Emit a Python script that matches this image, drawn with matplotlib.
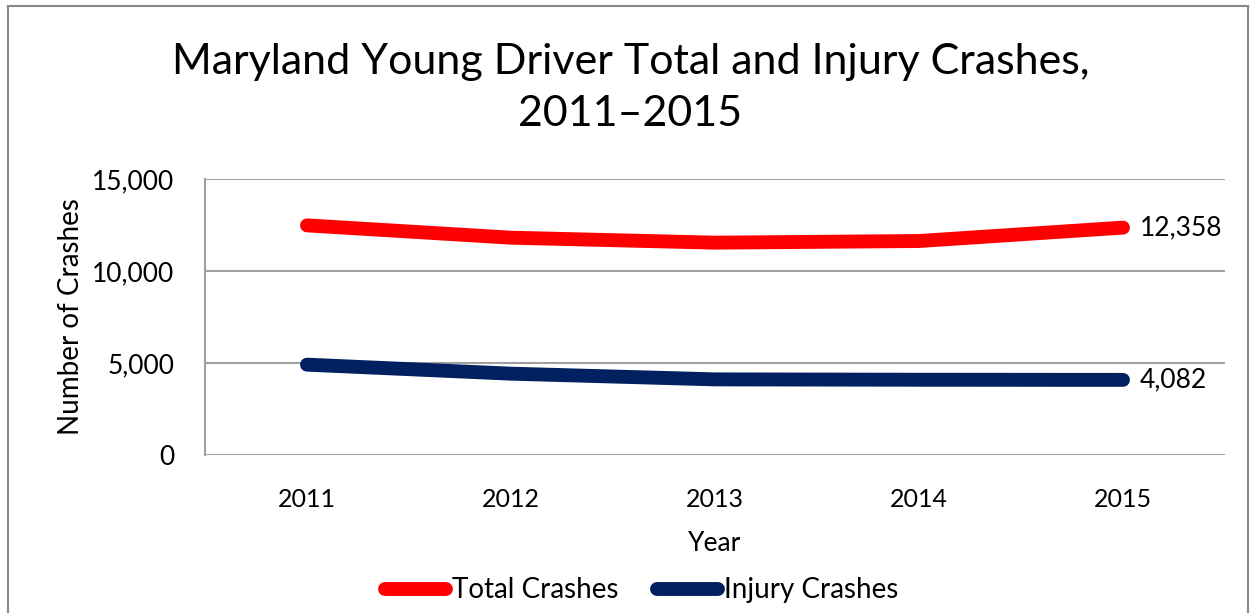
"""
Maryland young driver crashes, 2011-2015
"""
import matplotlib
matplotlib.use('Agg')
import matplotlib.pyplot as plt
from matplotlib.ticker import FuncFormatter

years = ['2011', '2012', '2013', '2014', '2015']
total_crashes = [12480, 11810, 11540, 11630, 12358]
injury_crashes = [4910, 4420, 4110, 4090, 4082]

plt.rcParams['font.family'] = ['Lato', 'DejaVu Sans']

fig = plt.figure(figsize=(12.53, 6.13), dpi=100)
ax = fig.add_axes([205 / 1253, 1 - 455 / 613, 1020 / 1253, 276 / 613])

x = range(len(years))
ax.plot(x, total_crashes, color='#ff0000', lw=10, solid_capstyle='round',
        solid_joinstyle='round', label='Total Crashes', zorder=3)
ax.plot(x, injury_crashes, color='#002060', lw=10, solid_capstyle='round',
        solid_joinstyle='round', label='Injury Crashes', zorder=3)

# end labels
for series in [total_crashes, injury_crashes]:
    ax.annotate('{:,}'.format(series[-1]), (x[-1], series[-1]),
                xytext=(12, 0), textcoords='offset points', va='center',
                fontsize=19)

ax.set_xlim(-0.5, len(years) - 0.5)
ax.set_ylim(0, 15000)
ax.set_yticks([0, 5000, 10000, 15000])
ax.yaxis.set_major_formatter(FuncFormatter(lambda v, p: '{:,.0f}'.format(v)))
ax.set_xticks(list(x))
ax.set_xticklabels(years)
ax.tick_params(axis='y', labelsize=19, length=0, pad=22)
ax.tick_params(axis='x', labelsize=18, length=0, pad=24)
ax.grid(axis='y', color='#a0a0a0', lw=1.5)
ax.set_axisbelow(True)
for side in ['top', 'right', 'bottom']:
    ax.spines[side].set_visible(False)
ax.spines['left'].set_color('#a0a0a0')
ax.spines['left'].set_linewidth(1.5)

ax.set_ylabel('Number of Crashes', fontsize=20, labelpad=6)
ax.set_xlabel('Year', fontsize=19, labelpad=14)

fig.text(0.503, 0.857, 'Maryland Young Driver Total and Injury Crashes,\n2011\u20132015',
         ha='center', va='center', fontsize=31, linespacing=1.45)

fig.legend(loc='center', bbox_to_anchor=(0.512, 0.037), ncol=2, frameon=False,
           fontsize=20, handlelength=2.2, handletextpad=0.2, columnspacing=1.4)

# outer border
fig.patches.append(plt.Rectangle((0.006, -0.01), 0.99, 1.0, transform=fig.transFigure,
                                 fill=False, edgecolor='#888888', lw=1.5))

plt.savefig('out.png', dpi=100)
